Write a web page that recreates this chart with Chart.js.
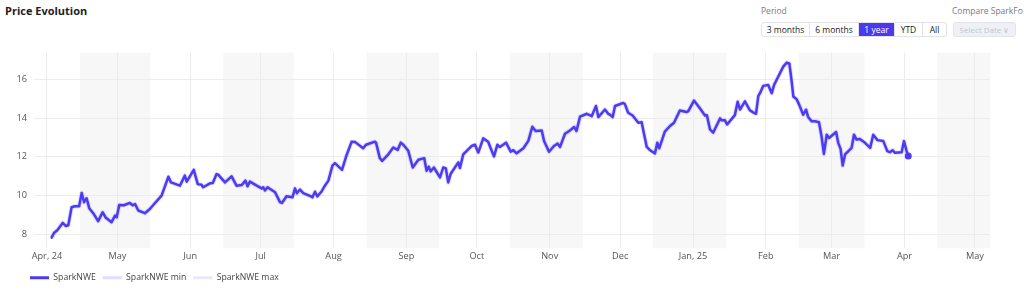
<!DOCTYPE html>
<html>
<head>
<meta charset="utf-8">
<script src="https://cdn.jsdelivr.net/npm/chart.js@4.4.1/dist/chart.umd.min.js"></script>
<style>
  body { margin: 0; background: #fff; font-family: 'Open Sans', sans-serif; width: 1024px; height: 297px; overflow: hidden; position: relative; }
  h1 { position: absolute; left: 5px; top: 3px; margin: 0; font-size: 11px; font-weight: 700; color: #1d1d28; }
  .lbl { position: absolute; top: 5px; font-size: 8.5px; color: #7a7a85; white-space: nowrap; }
  .grp { position: absolute; left: 761px; top: 22px; height: 13px; display: flex; border: 1px solid #e2e2e8; border-radius: 3px; overflow: hidden; }
  .grp span { font-size: 8.5px; line-height: 13px; text-align: center; color: #222; border-left: 1px solid #e2e2e8; }
  .grp span:first-child { border-left: none; }
  .grp span.on { background: #4b39ef; color: #fff; }
  .sel { position: absolute; left: 953px; top: 22px; width: 61px; height: 13px; background: #eef0f5; border: 1px solid #e2e4ea; border-radius: 3px; font-size: 8px; line-height: 13px; color: #c3c6cf; text-align: center; }
  #wrap { position: absolute; left: 0; top: 40px; width: 1024px; height: 257px; }
</style>
</head>
<body>
<h1>Price Evolution</h1>
<div class="lbl" style="left:761px">Period</div>
<div class="grp">
  <span style="width:47px">3 months</span><span style="width:48px">6 months</span><span class="on" style="width:35px">1 year</span><span style="width:27px">YTD</span><span style="width:23px">All</span>
</div>
<div class="lbl" style="left:952px">Compare SparkFo</div>
<div class="sel">Select Date &#8744;</div>
<div id="wrap"><canvas id="priceChart"></canvas></div>

<script>
// x values are days since 1 Apr 2024
const days = [2.0, 3.0, 4.4, 6.7, 8.1, 9.1, 10.5, 11.9, 13.7, 14.8, 15.8, 16.9, 18.0, 19.7, 21.8, 23.7, 25.1, 27.5, 29.0, 29.7,
  30.8, 32.8, 35.3, 36.5, 37.5, 38.9, 41.7, 43.8, 46.0, 48.8, 51.7, 52.8, 56.6, 58.7, 59.5, 62.5, 64.2, 65.8, 66.5, 69.4,
  70.6, 72.2, 72.9, 75.8, 78.6, 80.7, 82.9, 84.5, 85.4, 86.4, 89.3, 91.4, 92.1, 92.8, 93.9, 97.1, 99.2, 100.0, 102.0, 104.5,
  105.6, 106.4, 107.7, 109.1, 112.4, 113.0, 114.1, 115.1, 116.9, 118.3, 119.8, 121.5, 122.6, 125.6, 127.3, 129.7, 131.1, 134.6, 135.8, 139.6,
  140.1, 141.7, 142.7, 145.3, 147.4, 149.3, 150.6, 151.7, 153.8, 155.7, 158.1, 160.6, 161.6, 162.5, 163.3, 164.7, 167.3, 168.7, 169.8, 170.8,
  171.8, 175.1, 175.8, 177.2, 180.8, 182.2, 183.6, 185.7, 187.8, 189.3, 190.3, 191.7, 192.8, 195.4, 197.4, 198.5, 199.9, 202.8, 204.9, 206.6,
  208.0, 210.6, 211.6, 213.7, 215.8, 217.4, 218.4, 220.5, 222.6, 224.4, 225.4, 226.9, 229.8, 231.9, 233.7, 234.7, 237.5, 238.9, 239.6, 240.8,
  241.8, 245.3, 246.0, 247.4, 249.3, 251.7, 253.1, 255.3, 256.7, 258.8, 259.8, 260.6, 263.0, 265.2, 266.9, 269.4, 272.3, 273.0, 275.4, 277.6,
  280.1, 280.9, 282.2, 283.6, 286.5, 287.2, 288.6, 289.5, 292.8, 294.0, 295.0, 297.1, 299.2, 300.6, 301.8, 302.8, 303.5, 304.9, 307.0, 308.5,
  309.5, 311.3, 313.4, 314.9, 316.0, 317.0, 317.7, 319.1, 320.2, 321.9, 323.1, 324.0, 325.5, 326.9, 328.6, 329.7, 330.7, 331.9, 332.9, 335.9,
  336.8, 337.8, 338.7, 339.7, 342.5, 343.5, 344.6, 346.0, 348.2, 350.4, 351.7, 353.5, 356.0, 357.7, 358.8, 360.0, 360.9, 363.8, 364.8, 365.9, 366.6];

const price = [7.83, 8.07, 8.21, 8.59, 8.43, 8.47, 9.40, 9.45, 9.45, 10.13, 9.66, 9.86, 9.35, 9.09, 8.68, 9.14, 8.85, 8.63, 8.97, 8.88,
  9.52, 9.50, 9.62, 9.50, 9.56, 9.23, 9.09, 9.31, 9.62, 10.00, 10.97, 10.68, 10.51, 11.03, 10.72, 11.33, 10.59, 10.56, 10.43, 10.63,
  10.65, 11.11, 11.08, 10.68, 10.99, 10.51, 10.54, 10.77, 10.48, 10.72, 10.51, 10.37, 10.42, 10.26, 10.43, 10.17, 9.66, 9.62, 9.96, 9.91,
  10.37, 10.12, 10.31, 10.13, 9.96, 9.91, 10.20, 9.96, 10.21, 10.51, 10.77, 11.54, 11.67, 11.33, 12.00, 12.78, 12.77, 12.44, 12.62, 12.78,
  12.72, 11.93, 11.79, 12.13, 12.48, 12.36, 12.73, 12.62, 12.31, 11.45, 11.85, 11.93, 11.28, 11.49, 11.25, 11.45, 10.94, 11.45, 11.40, 10.68,
  11.11, 11.71, 11.42, 12.13, 12.56, 12.62, 12.22, 12.95, 12.78, 12.31, 12.02, 12.62, 12.51, 12.73, 12.27, 12.34, 12.18, 12.44, 12.82, 13.55,
  13.33, 13.36, 12.82, 12.26, 12.56, 12.68, 12.51, 13.19, 13.36, 13.54, 13.33, 14.07, 14.22, 14.10, 14.62, 14.05, 14.44, 14.22, 14.18, 14.05,
  14.62, 14.78, 14.72, 14.27, 14.13, 13.76, 13.79, 12.51, 12.34, 12.18, 12.73, 12.44, 13.30, 13.59, 13.76, 14.39, 14.31, 14.36, 14.90, 14.56,
  14.13, 14.14, 13.42, 13.25, 13.98, 13.88, 13.88, 13.67, 14.15, 14.84, 14.44, 14.86, 14.40, 14.29, 14.22, 15.14, 15.28, 15.66, 15.71, 15.28,
  15.71, 16.14, 16.65, 16.86, 16.82, 15.88, 15.11, 14.97, 14.68, 14.17, 14.43, 14.05, 13.83, 13.83, 13.78, 13.06, 12.15, 13.14, 12.97, 13.28,
  12.72, 12.41, 11.55, 12.12, 12.46, 13.14, 12.89, 12.92, 12.72, 12.46, 13.14, 12.86, 12.81, 12.29, 12.24, 12.34, 12.21, 12.24, 12.81, 12.29, 12.04];

const monthDays = [0, 30, 61, 91, 122, 153, 183, 214, 244, 275, 306, 334, 365, 395];
const monthLabels = ['Apr, 24', 'May', 'Jun', 'Jul', 'Aug', 'Sep', 'Oct', 'Nov', 'Dec', 'Jan, 25', 'Feb', 'Mar', 'Apr', 'May'];
const yTicks = [8, 10, 12, 14, 16];

// shaded delivery periods (mid-month to mid-month)
const bandStart = [14, 75, 136, 197, 258, 320, 379];
const bandEnd = [44, 105, 167, 228, 289, 348, 409];

const MAIN = '#4b3bf2';

const bandsPlugin = {
    id: 'bands',
    beforeDraw(chart) {
        const { ctx, chartArea: a, scales: { x } } = chart;
        ctx.save();
        ctx.fillStyle = '#f7f7f7';
        bandStart.forEach((s, i) => {
            const x0 = Math.max(a.left, x.getPixelForValue(s));
            const x1 = Math.min(a.right, x.getPixelForValue(bandEnd[i]));
            if (x1 > x0) ctx.fillRect(x0, a.top, x1 - x0, a.bottom - a.top);
        });
        ctx.restore();
    }
};

// nudge the legend so it lines up with the plot's left edge
const legendShift = {
    id: 'legendShift',
    afterLayout(chart) { chart.legend.left += 23; }
};

const pts = days.map((d, i) => ({ x: d, y: price[i] }));

Chart.defaults.font.family = "'Open Sans', sans-serif";
Chart.defaults.font.size = 9.5;
Chart.defaults.color = '#555';

new Chart(document.getElementById('priceChart').getContext('2d'), {
    type: 'line',
    data: {
        datasets: [
            { label: 'SparkNWE', data: pts, borderColor: MAIN, backgroundColor: MAIN, borderWidth: 2.5, tension: 0, order: 1,
              borderJoinStyle: 'round', borderCapStyle: 'round',
              pointRadius: ctx => ctx.dataIndex === price.length - 1 ? 3.5 : 0, pointBackgroundColor: MAIN, pointBorderWidth: 0 },
            { label: 'SparkNWE min', data: pts, borderColor: 'rgba(120,100,245,0.2)', backgroundColor: 'rgba(120,100,245,0.18)', borderWidth: 4.5,
              borderJoinStyle: 'round', pointRadius: 0, order: 2 },
            { label: 'SparkNWE max', data: pts, borderColor: 'rgba(120,100,245,0.12)', backgroundColor: 'rgba(120,100,245,0.15)', borderWidth: 3,
              borderJoinStyle: 'round', pointRadius: 0, order: 3 }
        ]
    },
    options: {
        responsive: true, maintainAspectRatio: false, animation: false,
        layout: { padding: { top: 9, right: 34, left: 0, bottom: 5 } },
        plugins: {
            tooltip: { enabled: false },
            legend: {
                position: 'bottom', align: 'start',
                labels: {
                    boxWidth: 19, boxHeight: 3, padding: 7, color: '#444', font: { size: 8.7 },
                    generateLabels: chart => chart.data.datasets.map((ds, i) => ({
                        text: ds.label, datasetIndex: i,
                        fillStyle: i === 0 ? MAIN : (i === 1 ? 'rgba(120,100,245,0.22)' : 'rgba(120,100,245,0.16)'),
                        strokeStyle: 'transparent', lineWidth: 0, fontColor: '#444'
                    }))
                }
            }
        },
        scales: {
            x: {
                type: 'linear', min: -5.5, max: 401.4,
                afterBuildTicks: s => { s.ticks = monthDays.map(v => ({ value: v })); },
                afterFit: s => { s.height = 18; },
                ticks: { autoSkip: false, maxRotation: 0, padding: 3, color: '#555', font: { size: 9.2 }, callback: v => monthLabels[monthDays.indexOf(v)] },
                grid: { color: '#ececec', drawTicks: false },
                border: { display: false }
            },
            y: {
                min: 7.28, max: 17.38,
                afterBuildTicks: s => { s.ticks = yTicks.map(v => ({ value: v })); },
                afterFit: s => { s.width = 34; },
                ticks: { padding: 7, color: '#555', font: { size: 9.2 } },
                grid: { color: '#ececec', drawTicks: false },
                border: { display: false }
            }
        }
    },
    plugins: [bandsPlugin, legendShift]
});
</script>
</body>
</html>
